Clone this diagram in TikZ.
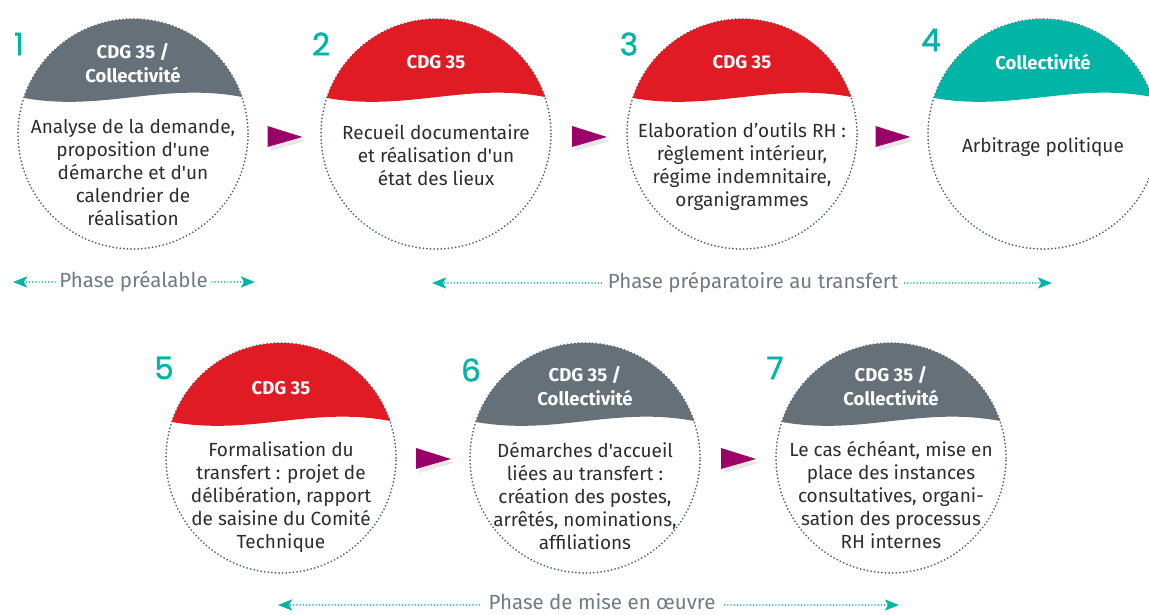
\documentclass[tikz,border=0pt]{standalone}
\usepackage{fontspec}
\setmainfont{Fira Sans}[Ligatures=TeXOff]
\newfontfamily\numfont{Poppins}[FakeBold=1.3]
\usetikzlibrary{calc,arrows.meta,shadows}
\definecolor{headgray}{RGB}{102,112,120}
\definecolor{headred}{RGB}{225,27,36}
\definecolor{headteal}{RGB}{0,181,166}
\definecolor{numteal}{RGB}{0,181,166}
\definecolor{dotgray}{RGB}{90,100,108}
\definecolor{bodytext}{RGB}{45,45,45}
\definecolor{phasegray}{RGB}{112,122,132}
\definecolor{tripurple}{RGB}{155,0,105}
\newcommand\headfill[2]{%
  \begin{scope}
    \clip (#1.center) circle (115pt);
    \fill[#2, shift={(#1.center)}] (-130,36) -- (-109,36) .. controls (-30,22) and (30,52) .. (109,37) -- (130,37) -- (130,130) -- (-130,130) -- cycle;
  \end{scope}}
\newcommand\flowtri[1]{%
  \fill[tripurple, drop shadow={shadow xshift=3pt,shadow yshift=-4pt,opacity=.18}]
    ([shift={(-17,10)}]#1) -- ([shift={(18,-1)}]#1) -- ([shift={(-17,-11)}]#1) -- cycle;}
\tikzset{
  stepcircle/.style={circle, minimum size=230pt, inner sep=0pt, draw=dotgray, line width=2pt,
    dash pattern=on 0pt off 3.6pt, line cap=round},
  headlabel/.style={text=white, font=\bfseries\fontsize{18.5}{24}\selectfont, align=center},
  bodylabel/.style={text=bodytext, font=\fontsize{19}{23}\selectfont, align=center},
  stepnum/.style={text=numteal, font=\numfont\fontsize{31}{31}\selectfont},
  phaselabel/.style={text=phasegray, font=\fontsize{20.5}{24}\selectfont, inner sep=4pt},
  phasearr/.style={numteal, line width=1.7pt, dash pattern=on 0pt off 3.2pt, line cap=round,
    -{Stealth[length=14pt,width=11pt,inset=3pt]}}
}
\begin{document}
\begin{tikzpicture}[x=1pt,y=1pt]
\useasboundingbox (0,0) rectangle (1149,615);
% circles
\node[stepcircle] (c1) at (133,481) {};
\node[stepcircle] (c2) at (436,481) {};
\node[stepcircle] (c3) at (742,481) {};
\node[stepcircle] (c4) at (1043,481) {};
\node[stepcircle] (c5) at (281,157) {};
\node[stepcircle] (c6) at (585,157) {};
\node[stepcircle] (c7) at (891,157) {};
\headfill{c1}{headgray}
\headfill{c2}{headred}
\headfill{c3}{headred}
\headfill{c4}{headteal}
\headfill{c5}{headred}
\headfill{c6}{headgray}
\headfill{c7}{headgray}
% head labels
\node[headlabel] (h1) at ([yshift=71pt]c1.center) {CDG 35 /\\Collectivité};
\node[headlabel] (h2) at ([yshift=72pt]c2.center) {CDG 35};
\node[headlabel] (h3) at ([yshift=72pt]c3.center) {CDG 35};
\node[headlabel] (h4) at ([yshift=72pt]c4.center) {Collectivité};
\node[headlabel] (h5) at ([yshift=70pt]c5.center) {CDG 35};
\node[headlabel] (h6) at ([yshift=72pt]c6.center) {CDG 35 /\\Collectivité};
\node[headlabel] (h7) at ([yshift=72pt]c7.center) {CDG 35 /\\Collectivité};
% body labels
\node[bodylabel] (b1) at ([yshift=-38pt]c1.center) {Analyse de la demande,\\proposition d'une\\démarche et d'un\\calendrier de\\réalisation};
\node[bodylabel] (b2) at ([yshift=-21pt]c2.center) {Recueil documentaire\\et réalisation d'un\\état des lieux};
\node[bodylabel] (b3) at ([yshift=-33pt]c3.center) {Elaboration d’outils RH :\\règlement intérieur,\\régime indemnitaire,\\organigrammes};
\node[bodylabel] (b4) at ([yshift=-13pt]c4.center) {Arbitrage politique};
\node[bodylabel] (b5) at ([yshift=-39pt]c5.center) {Formalisation du\\transfert : projet de\\délibération, rapport\\de saisine du Comité\\Technique};
\node[bodylabel] (b6) at ([yshift=-38pt]c6.center) {Démarches d'accueil\\liées au transfert :\\création des postes,\\arrêtés, nominations,\\affiliations};
\node[bodylabel] (b7) at ([yshift=-37pt]c7.center) {Le cas échéant, mise en\\place des instances\\consultatives, organi-\\sation des processus\\RH internes};
% numbers
\node[stepnum] (n1) at ([shift={(-114,90)}]c1.center) {1};
\node[stepnum] (n2) at ([shift={(-115,90)}]c2.center) {2};
\node[stepnum] (n3) at ([shift={(-113,90)}]c3.center) {3};
\node[stepnum] (n4) at ([shift={(-112,94)}]c4.center) {4};
\node[stepnum] (n5) at ([shift={(-117,90)}]c5.center) {5};
\node[stepnum] (n6) at ([shift={(-114,88)}]c6.center) {6};
\node[stepnum] (n7) at ([shift={(-116,90)}]c7.center) {7};
% flow triangles
\coordinate (a12) at ($(c1)!0.5!(c2)+(0,-2)$);
\coordinate (a23) at ($(c2)!0.5!(c3)+(0,-2)$);
\coordinate (a34) at ($(c3)!0.5!(c4)+(0,-2)$);
\coordinate (a56) at ($(c5)!0.5!(c6)+(0,0)$);
\coordinate (a67) at ($(c6)!0.5!(c7)+(0,0)$);
\flowtri{a12}
\flowtri{a23}
\flowtri{a34}
\flowtri{a56}
\flowtri{a67}
% phases
\node[phaselabel] (p1) at (133.5,334) {Phase préalable};
\coordinate (p1l) at (13,333);
\coordinate (p1r) at (255,333);
\draw[phasearr] (p1.west |- p1l) -- (p1l);
\draw[phasearr] (p1.east |- p1r) -- (p1r);
\node[phaselabel, inner sep=6pt] (p2) at (753,333) {Phase préparatoire au transfert};
\coordinate (p2l) at (432,332);
\coordinate (p2r) at (1052,332);
\draw[phasearr] (p2.west |- p2l) -- (p2l);
\draw[phasearr] (p2.east |- p2r) -- (p2r);
\node[phaselabel, inner sep=9pt, anchor=base] (p3) at (602,5) {Phase de mise en œuvre};
\coordinate (p3l) at (278,10);
\coordinate (p3r) at (899,10);
\draw[phasearr] (p3.west |- p3l) -- (p3l);
\draw[phasearr] (p3.east |- p3r) -- (p3r);
\end{tikzpicture}
\end{document}
